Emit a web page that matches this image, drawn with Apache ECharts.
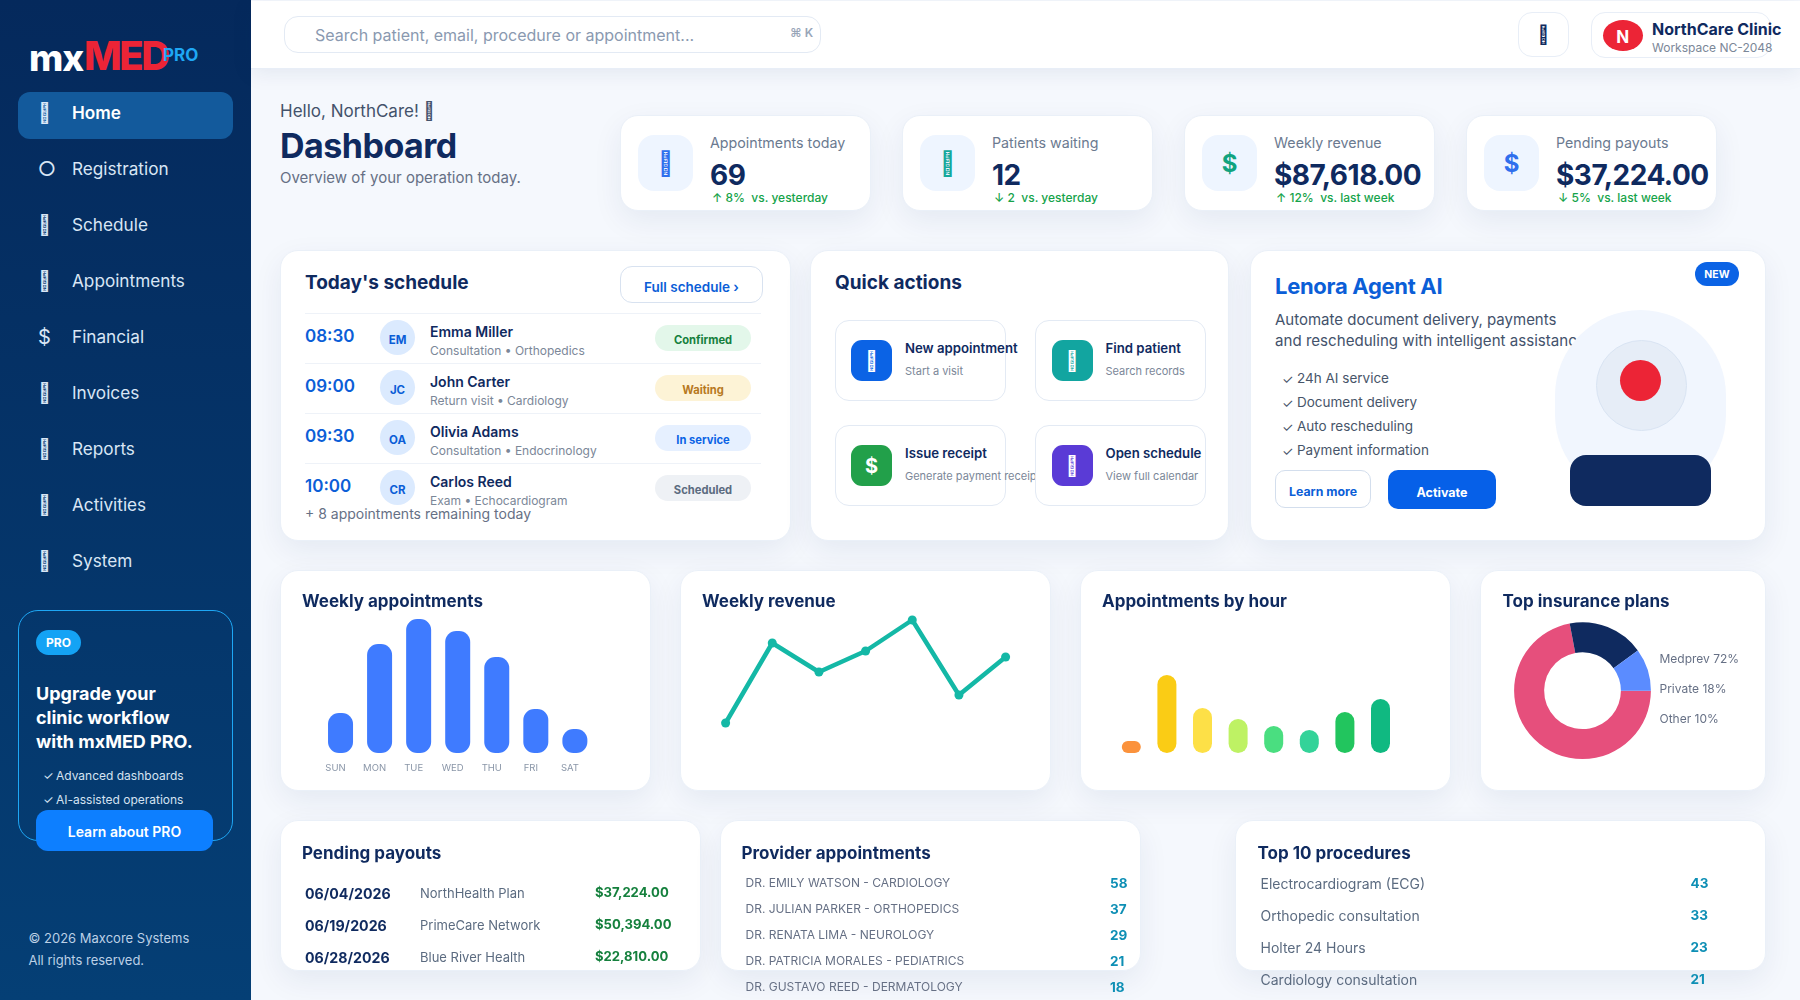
<!DOCTYPE html>
<html>
<head>
<meta charset="utf-8" />
<title>mxMED Dashboard</title>
<script src="https://cdn.jsdelivr.net/npm/echarts@6/dist/echarts.min.js"></script>
<style>
* { box-sizing: border-box; }
html, body { margin: 0; height: 100%; overflow: hidden; }
body { background: #f5f8fd; font-family: Inter, "Noto Sans", sans-serif; color: #0f2a5f; width: 1800px; height: 1000px; position: relative; }
.abs, .t { position: absolute; white-space: nowrap; }
.t { line-height: 1; transform: translateY(-50%); }
.card { position: absolute; background: #fff; border: 1px solid #eaf0f8; border-radius: 18px; box-shadow: 0 10px 30px rgba(15,42,95,.07); }
#side { position: absolute; left: 0; top: 0; width: 251px; height: 1000px; background: linear-gradient(180deg, #05295c, #053f75); }
#top { position: absolute; left: 251px; top: 1px; width: 1549px; height: 68px; background: #fff; box-shadow: 0 4px 20px rgba(15,42,95,.08); border-bottom: 1px solid #e8eef7; }
.chart { position: absolute; left: 0; top: 0; width: 100%; height: 100%; }
.icon { position: absolute; display: flex; align-items: center; justify-content: center; }
</style>
</head>
<body>
<div id="side"></div>
<div id="top"></div>
<div id="root"></div>

<script type="text/javascript">
// the reference shows its icons as missing-glyph boxes
let TOFU = '\u{F0000}';

// nav + kpi
let navItems = ['Home', 'Registration', 'Schedule', 'Appointments', 'Financial', 'Invoices', 'Reports', 'Activities', 'System'];
let navIcons = [TOFU, '○', TOFU, TOFU, '$', TOFU, TOFU, TOFU, TOFU];
let kpiLabels = ['Appointments today', 'Patients waiting', 'Weekly revenue', 'Pending payouts'];
let kpiValues = ['69', '12', '$87,618.00', '$37,224.00'];
let kpiDeltas = ['↑ 8%&nbsp; vs. yesterday', '↓ 2&nbsp; vs. yesterday', '↑ 12%&nbsp; vs. last week', '↓ 5%&nbsp; vs. last week'];
let kpiIcons = [TOFU, TOFU, '$', '$'];
let kpiIconColors = ['#2f6fed', '#14a89c', '#10a37f', '#2f6fed'];

// schedule
let schedTimes = ['08:30', '09:00', '09:30', '10:00'];
let schedInitials = ['EM', 'JC', 'OA', 'CR'];
let schedNames = ['Emma Miller', 'John Carter', 'Olivia Adams', 'Carlos Reed'];
let schedDetails = ['Consultation • Orthopedics', 'Return visit • Cardiology', 'Consultation • Endocrinology', 'Exam • Echocardiogram'];
let schedStatus = ['Confirmed', 'Waiting', 'In service', 'Scheduled'];
let statusBg = ['#e3f7ea', '#fdf3d6', '#e6f0ff', '#eef1f5'];
let statusFg = ['#15803d', '#b7791f', '#0b63e5', '#5b6b80'];

// quick actions
let quickTitles = ['New appointment', 'Find patient', 'Issue receipt', 'Open schedule'];
let quickSubs = ['Start a visit', 'Search records', 'Generate payment receipt', 'View full calendar'];
let quickIcons = [TOFU, TOFU, '$', TOFU];
let quickColors = ['#0b63e5', '#12a5a0', '#22a04a', '#5a3bd6'];
let aiChecks = ['24h AI service', 'Document delivery', 'Auto rescheduling', 'Payment information'];

// charts
let weekDays = ['SUN', 'MON', 'TUE', 'WED', 'THU', 'FRI', 'SAT'];
let weeklyAppointments = [40, 109, 134, 122, 96, 44, 24];
let weeklyRevenue = [30, 110, 81, 102, 133, 58, 96];
let hours = ['08h', '09h', '10h', '11h', '12h', '13h', '14h', '15h'];
let hourValues = [12, 78, 45, 34, 27, 23, 41, 54];
let hourColors = ['#fb923c', '#facc15', '#fde047', '#bef264', '#4ade80', '#34d399', '#22c55e', '#10b981'];
let planNames = ['Medprev', 'Private', 'Other'];
let planValues = [72, 18, 10];
let planColors = ['#e64f7c', '#0f2a5f', '#5b8cff'];

// tables
let payoutDates = ['06/04/2026', '06/19/2026', '06/28/2026'];
let payoutNames = ['NorthHealth Plan', 'PrimeCare Network', 'Blue River Health'];
let payoutValues = ['$37,224.00', '$50,394.00', '$22,810.00'];
let providerNames = ['DR. EMILY WATSON - CARDIOLOGY', 'DR. JULIAN PARKER - ORTHOPEDICS', 'DR. RENATA LIMA - NEUROLOGY', 'DR. PATRICIA MORALES - PEDIATRICS', 'DR. GUSTAVO REED - DERMATOLOGY'];
let providerValues = [58, 37, 29, 21, 18];
let procedureNames = ['Electrocardiogram (ECG)', 'Orthopedic consultation', 'Holter 24 Hours', 'Cardiology consultation'];
let procedureValues = [43, 33, 23, 21];

let root = document.getElementById('root');

function txt(x, y, s, size, color, weight, extra) {
    root.insertAdjacentHTML('beforeend', '<div class="t" style="left:' + x + 'px;top:' + y + 'px;font-size:' + size + 'px;color:' + color + ';font-weight:' + (weight || 400) + ';' + (extra || '') + '">' + s + '</div>');
}
function box(x, y, w, h, style, inner) {
    root.insertAdjacentHTML('beforeend', '<div class="abs icon" style="left:' + x + 'px;top:' + y + 'px;width:' + w + 'px;height:' + h + 'px;' + style + '">' + (inner || '') + '</div>');
}
function card(x, y, w, h, id) {
    root.insertAdjacentHTML('beforeend', '<div class="card" style="left:' + (x - 1) + 'px;top:' + (y - 1) + 'px;width:' + (w + 2) + 'px;height:' + (h + 2) + 'px">' + (id ? '<div class="chart" id="' + id + '"></div>' : '') + '</div>');
}

// sidebar
txt(29, 56.5, 'mx', 37, '#ffffff', 800, 'letter-spacing:-1px');
txt(84, 55.5, 'MED', 40, '#ec2436', 800, 'letter-spacing:-2.5px');
txt(163, 54.5, 'PRO', 17, '#1ea7f5', 700);
box(18, 92, 214.5, 47, 'background:#135a9c;border-radius:12px');
navItems.forEach(function (name, i) {
    let y = 113 + i * 56;
    let ix = navIcons[i] == '○' ? 47 : 44.5;
    txt(ix, y, navIcons[i], 20, i == 0 ? '#dce9f8' : '#d9e6f5', 400, 'transform:translate(-50%,-50%)');
    txt(72, y, name, 17.2, i == 0 ? '#ffffff' : '#d9e6f5', i == 0 ? 600 : 400);
});
box(18, 610, 214.5, 231, 'border:1px solid #1ea7f5;border-radius:20px');
box(36, 630, 45, 25, 'background:#14a3f5;border-radius:13px;color:#fff;font-size:12px;font-weight:700', 'PRO');
['Upgrade your', 'clinic workflow', 'with mxMED PRO.'].forEach(function (s, i) {
    txt(36, 694 + i * 24, s, 18, '#ffffff', 700);
});
['Advanced dashboards', 'AI-assisted operations'].forEach(function (s, i) {
    txt(43, 776 + i * 24, '✓', 12, '#d5e3f2');
    txt(56, 776 + i * 24, s, 12, '#d5e3f2');
});
box(36, 810, 177, 41, 'background:#0d7fff;border-radius:12px;color:#fff;font-size:14px;font-weight:600;padding-top:2px', 'Learn about PRO');
txt(28.5, 938, '© 2026 Maxcore Systems', 13, '#bcd0e6');
txt(28.5, 960, 'All rights reserved.', 13, '#bcd0e6');

// top bar
box(284, 16, 537, 37, 'border:1px solid #e3eaf4;border-radius:14px');
txt(315, 35, 'Search patient, email, procedure or appointment...', 16, '#8a99b0');
txt(790, 33, '⌘ K', 12, '#98a5b8', 600);
box(1518, 12, 51, 45, 'border:1px solid #e8eef7;border-radius:14px;font-size:18px;color:#0f2a5f', TOFU);
box(1590.5, 12, 180, 46, 'border:1px solid #e8eef7;border-radius:14px');
box(1602.5, 19.5, 40.5, 31.5, 'background:#ec2436;border-radius:50%;color:#fff;font-size:17px;font-weight:700;padding-top:3px', 'N');
txt(1652, 28.5, 'NorthCare Clinic', 16, '#0f2a5f', 700);
txt(1652, 47.5, 'Workspace NC-2048', 12, '#7b8798');

// header
txt(280, 110.5, 'Hello, NorthCare! ' + TOFU, 17, '#43526b');
txt(280, 146, 'Dashboard', 34, '#0f2a5f', 700, 'letter-spacing:-.5px');
txt(280, 177, 'Overview of your operation today.', 15, '#667085');

// kpi cards
kpiLabels.forEach(function (label, i) {
    let x = 621 + i * 282;
    card(x, 116, 249, 94);
    box(x + 17, 135, 55, 56, 'background:#eef5ff;border-radius:16px;font-size:24px;font-weight:700;color:' + kpiIconColors[i], kpiIcons[i]);
    txt(x + 89, 143, label, 14.25, '#6b7a90');
    txt(x + 89, 175, kpiValues[i], 28, '#0f2a5f', 700, 'letter-spacing:-.5px');
    txt(x + 91, 197.5, kpiDeltas[i], 12, '#16a34a', 500);
});

// schedule
card(281, 251, 509, 289);
txt(305, 282, "Today's schedule", 19, '#0f2a5f', 700);
box(620, 266, 143, 37, 'border:1px solid #d8e2f0;border-radius:12px;color:#0b5ed7;font-size:13.5px;font-weight:600;padding-top:4px', 'Full schedule ›');
schedNames.forEach(function (name, i) {
    let y = i * 50;
    box(305, 313 + y, 456, 1, 'background:#eef2f8');
    txt(305, 335.5 + y, schedTimes[i], 17, '#0b5ed7', 600);
    box(380, 320 + y, 35, 35, 'background:#dbeafe;border-radius:50%;color:#0b5ed7;font-size:11.5px;font-weight:700;padding-top:5px', schedInitials[i]);
    txt(430, 332 + y, name, 14, '#0f2a5f', 600);
    txt(430, 351 + y, schedDetails[i], 12, '#7b8798');
    box(655, 324.5 + y, 96, 26.5, 'border-radius:13px;font-size:11.2px;font-weight:700;padding-top:5px;background:' + statusBg[i] + ';color:' + statusFg[i], schedStatus[i]);
});
txt(305, 514, '+ 8 appointments remaining today', 14, '#667085');

// quick actions
card(811, 251, 417, 289);
txt(835, 282, 'Quick actions', 19, '#0f2a5f', 700);
quickTitles.forEach(function (title, i) {
    let x = i % 2 ? 1034.5 : 835;
    let w = i % 2 ? 171 : 170.5;
    let tx = i % 2 ? 1105.5 : 905;
    let y = i > 1 ? 105 : 0;
    box(x, 320 + y, w, 81, 'background:#fff;border:1px solid #e3eaf4;border-radius:14px');
    box(tx - 54, 340 + y, 41, 41, 'border-radius:11px;color:#fff;font-size:20px;font-weight:700;background:' + quickColors[i], quickIcons[i]);
    txt(tx, 349 + y, title, 13.2, '#0f2a5f', 600);
    txt(tx, 370.5 + y, quickSubs[i], 11, '#7b8798');
});

// lenora
card(1251, 251, 514, 289);
txt(1275, 286, 'Lenora Agent AI', 22, '#0b5ed7', 700, 'letter-spacing:-.3px');
txt(1275, 318.5, 'Automate document delivery, payments', 15, '#43526b');
txt(1275, 340.5, 'and rescheduling with intelligent assistance.', 15.1, '#43526b');
box(1555, 310, 171, 190, 'background:#f1f6fe;border-radius:85.5px');
box(1595.5, 340, 91, 91, 'background:#e6edf7;border:1px solid #d9e4f3;border-radius:50%');
box(1620, 360, 41, 41, 'background:#ec2436;border-radius:50%');
box(1570, 455, 141, 51, 'background:#0f2a5f;border-radius:16px');
box(1695, 262, 44, 24, 'background:#0b63e5;border-radius:12px;color:#fff;font-size:10.5px;font-weight:700', 'NEW');
aiChecks.forEach(function (s, i) {
    txt(1282, 378.5 + i * 24, '✓', 13, '#475569');
    txt(1297, 378.5 + i * 24, s, 13.5, '#475569');
});
box(1275, 470, 96, 38, 'border:1px solid #d3deed;border-radius:10px;color:#0b5ed7;font-size:12.3px;font-weight:700;padding-top:5px', 'Learn more');
box(1388, 470, 108, 39, 'background:#0660e8;border-radius:10px;color:#fff;font-size:12.5px;font-weight:700;padding-top:5px', 'Activate');

// chart cards
card(281, 571, 369, 219, 'chartWeek');
card(681, 571, 369, 219, 'chartRevenue');
card(1081, 571, 369, 219, 'chartHour');
card(1481, 571, 284, 219, 'chartPlans');
txt(302, 601, 'Weekly appointments', 17, '#0f2a5f', 700);
txt(702, 601, 'Weekly revenue', 17, '#0f2a5f', 700);
txt(1102, 601, 'Appointments by hour', 17, '#0f2a5f', 700);
txt(1502.5, 601, 'Top insurance plans', 17, '#0f2a5f', 700);

// tables
card(281, 821, 419, 149);
card(721, 821, 419, 149);
card(1236, 821, 529, 149);
txt(302, 853, 'Pending payouts', 17, '#0f2a5f', 700);
txt(741.5, 853, 'Provider appointments', 17, '#0f2a5f', 700);
txt(1257.5, 853, 'Top 10 procedures', 17, '#0f2a5f', 700);
payoutDates.forEach(function (d, i) {
    txt(305, 894 + i * 32, d, 14.2, '#0f2a5f', 700);
    txt(420, 893 + i * 32, payoutNames[i], 13, '#5b6b80');
    txt(595, 893 + i * 32, payoutValues[i], 13.1, '#15803d', 700);
});
providerNames.forEach(function (name, i) {
    txt(745.5, 882.5 + i * 26, name, 12, '#667085');
    txt(1110, 884 + i * 26, providerValues[i], 13.5, '#0e8fb5', 700);
});
procedureNames.forEach(function (name, i) {
    txt(1260.5, 884 + i * 32, name, 14, '#5b6b80');
    txt(1690.5, 884 + i * 32, procedureValues[i], 13.5, '#0e8fb5', 700);
});

// bar: weekly appointments
let weekChart = echarts.init(document.getElementById('chartWeek'));
weekChart.setOption({
    animation: false,
    grid: { left: 40, top: 48, width: 273.4, height: 134 },
    xAxis: {
        type: 'category',
        data: weekDays,
        axisLine: { show: false },
        axisTick: { show: false },
        axisLabel: { fontSize: 9.5, color: '#8a96a8', margin: 10, fontFamily: 'Inter', padding: [0, 10, 0, 0], interval: 0 }
    },
    yAxis: { type: 'value', min: 0, max: 134, show: false },
    series: [{
        type: 'bar',
        data: weeklyAppointments,
        barWidth: 25,
        itemStyle: { color: '#3f7bff', borderRadius: 11 }
    }]
});

// line: weekly revenue
let revenueChart = echarts.init(document.getElementById('chartRevenue'));
revenueChart.setOption({
    animation: false,
    grid: { left: 44.6, top: 49, width: 280, height: 133 },
    xAxis: { type: 'category', data: weekDays, boundaryGap: false, show: false },
    yAxis: { type: 'value', min: 0, max: 133, show: false },
    series: [{
        type: 'line',
        data: weeklyRevenue,
        symbol: 'circle',
        symbolSize: 9,
        lineStyle: { color: '#14b8a6', width: 4.5 },
        itemStyle: { color: '#14b8a6' }
    }]
});

// bar: appointments by hour
let hourChart = echarts.init(document.getElementById('chartHour'));
hourChart.setOption({
    animation: false,
    grid: { left: 32.5, top: 48, width: 284.8, height: 134 },
    xAxis: { type: 'category', data: hours, show: false },
    yAxis: { type: 'value', min: 0, max: 134, show: false },
    series: [{
        type: 'bar',
        data: hourValues.map(function (v, i) {
            return { value: v, itemStyle: { color: hourColors[i] } };
        }),
        barWidth: 19,
        itemStyle: { borderRadius: 10 }
    }]
});

// donut: top insurance plans
let plansChart = echarts.init(document.getElementById('chartPlans'));
plansChart.setOption({
    animation: false,
    legend: {
        orient: 'vertical',
        left: 168.5,
        top: 77,
        itemWidth: 0,
        itemHeight: 0,
        itemGap: 18,
        selectedMode: false,
        icon: 'rect',
        formatter: function (name) {
            return name + ' ' + planValues[planNames.indexOf(name)] + '%';
        },
        textStyle: { fontSize: 12, color: '#667085', fontFamily: 'Inter' }
    },
    series: [{
        type: 'pie',
        center: [101.5, 119.7],
        radius: [38.4, 68.4],
        startAngle: 0,
        label: { show: false },
        labelLine: { show: false },
        data: planNames.map(function (n, i) {
            return { name: n, value: planValues[i], itemStyle: { color: planColors[i] } };
        })
    }]
});
</script>
</body>
</html>
